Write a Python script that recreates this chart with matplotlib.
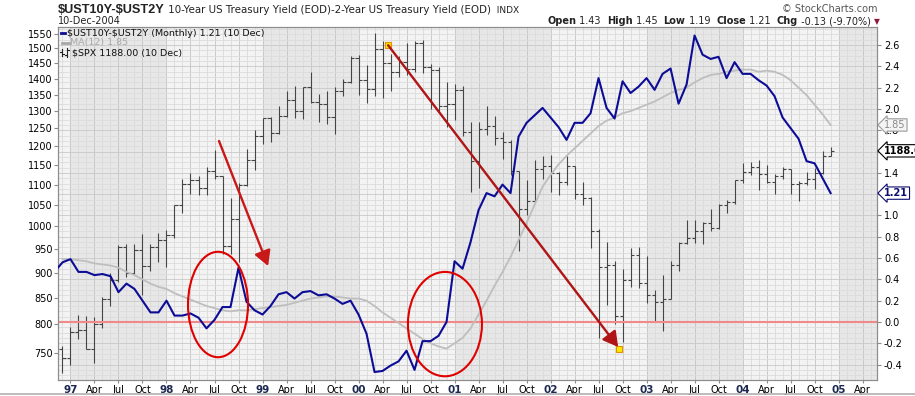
import matplotlib
matplotlib.use("Agg")
import matplotlib.pyplot as plt
import numpy as np
from matplotlib.patches import Ellipse
from matplotlib.lines import Line2D
from matplotlib.ticker import FixedLocator, FixedFormatter, NullLocator
from matplotlib.transforms import blended_transform_factory
from matplotlib.offsetbox import TextArea, HPacker, AnnotationBbox

W, H = 915, 396

# month index: 0 = Jan 1997
spread_start = -2  # Nov 1996
spread = [0.47, 0.56,
          0.59, 0.47, 0.47, 0.44, 0.45, 0.43, 0.28, 0.36, 0.31, 0.20, 0.09, 0.09,
          0.20, 0.06, 0.06, 0.08, 0.04, -0.06, 0.02, 0.14, 0.14, 0.51, 0.19, 0.11,
          0.07, 0.15, 0.26, 0.28, 0.22, 0.28, 0.29, 0.25, 0.26, 0.22, 0.17, 0.20,
          0.07, -0.11, -0.47, -0.46, -0.41, -0.37, -0.27, -0.45, -0.18, -0.18, -0.13, 0.00,
          0.57, 0.50, 0.75, 1.05, 1.21, 1.18, 1.29, 1.21, 1.74, 1.87, 1.94, 2.01,
          1.92, 1.83, 1.71, 1.87, 1.87, 1.96, 2.29, 2.01, 1.91, 2.26, 2.15, 2.21,
          2.29, 2.18, 2.33, 2.38, 2.05, 2.23, 2.69, 2.51, 2.47, 2.49, 2.29, 2.44,
          2.33, 2.33, 2.27, 2.22, 2.12, 1.92, 1.82, 1.72, 1.51, 1.49, 1.35, 1.21]

ma_start = -1  # Dec 1996
ma12 = [0.59,
        0.59, 0.58, 0.57, 0.55, 0.54, 0.53, 0.51, 0.47, 0.44, 0.40, 0.36, 0.33,
        0.31, 0.27, 0.24, 0.21, 0.18, 0.15, 0.13, 0.11, 0.10, 0.11, 0.11, 0.12,
        0.13, 0.14, 0.15, 0.16, 0.18, 0.20, 0.22, 0.23, 0.24, 0.24, 0.23, 0.22,
        0.22, 0.20, 0.15, 0.09, 0.04, -0.01, -0.06, -0.11, -0.16, -0.20, -0.23, -0.25,
        -0.20, -0.15, -0.06, 0.07, 0.20, 0.34, 0.47, 0.61, 0.77, 0.93, 1.10, 1.27,
        1.38, 1.48, 1.56, 1.63, 1.70, 1.77, 1.84, 1.89, 1.92, 1.96, 1.98, 2.01,
        2.04, 2.07, 2.11, 2.15, 2.18, 2.20, 2.25, 2.29, 2.32, 2.33, 2.35, 2.36,
        2.37, 2.37, 2.35, 2.36, 2.35, 2.32, 2.27, 2.20, 2.13, 2.04, 1.95, 1.85]

spx_start = -1  # Dec 1996
spx_open = [757.0,
            740.7, 786.2, 790.8, 757.1, 801.3, 848.3, 885.1, 954.3, 899.5, 947.3, 914.6, 955.4,
            970.4, 980.3, 1049.3, 1101.8, 1111.8, 1090.8, 1133.8, 1120.7, 957.3, 1017.0, 1098.7, 1163.6,
            1229.2, 1279.6, 1238.3, 1286.4, 1335.2, 1301.8, 1372.7, 1328.7, 1320.4, 1282.7, 1362.9, 1388.9,
            1469.3, 1394.5, 1366.4, 1498.6, 1452.4, 1420.6, 1454.6, 1430.8, 1517.7, 1436.5, 1429.4, 1315.0,
            1320.3, 1366.0, 1239.9, 1160.3, 1249.5, 1255.8, 1224.4, 1211.2, 1133.6, 1040.9, 1059.8, 1139.5,
            1148.1, 1130.2, 1106.7, 1147.4, 1076.9, 1067.1, 989.8, 911.6, 916.1, 815.3, 885.8, 936.3,
            879.8, 855.7, 841.2, 848.2, 916.9, 963.6, 974.5, 990.3, 1008.0, 996.0, 1050.7, 1058.2,
            1111.9, 1131.1, 1144.9, 1126.2, 1107.3, 1120.7, 1140.8, 1101.7, 1104.2, 1114.6, 1130.2, 1173.8]
spx_high = [761.8,
            794.7, 817.7, 814.9, 812.9, 851.9, 898.7, 957.7, 961.6, 960.5, 983.1, 961.0, 986.3,
            992.7, 1051.0, 1113.0, 1130.0, 1122.0, 1145.0, 1190.6, 1121.0, 1066.1, 1103.8, 1192.0, 1244.9,
            1280.0, 1283.0, 1316.0, 1362.0, 1376.0, 1373.0, 1420.3, 1352.0, 1361.0, 1373.0, 1399.0, 1473.0,
            1478.0, 1444.6, 1552.9, 1527.2, 1481.5, 1474.6, 1517.3, 1525.2, 1530.1, 1448.0, 1438.5, 1389.1,
            1383.4, 1376.4, 1267.4, 1269.3, 1315.9, 1286.6, 1239.8, 1218.0, 1134.0, 1110.6, 1163.4, 1173.0,
            1176.6, 1131.0, 1173.0, 1147.8, 1106.6, 1070.0, 994.5, 965.0, 924.0, 907.4, 951.6, 954.3,
            935.1, 864.6, 895.0, 924.2, 965.4, 1015.0, 1015.4, 1011.0, 1040.0, 1053.0, 1063.0, 1112.0,
            1155.0, 1159.0, 1163.0, 1150.6, 1127.0, 1146.0, 1140.0, 1109.0, 1132.0, 1142.0, 1188.5, 1197.5]
spx_low = [716.7,
           729.6, 773.4, 756.1, 733.5, 793.2, 833.8, 882.0, 892.0, 896.0, 855.3, 903.0, 923.0,
           912.8, 975.0, 1032.0, 1076.0, 1074.0, 1074.0, 1114.0, 940.0, 939.0, 923.3, 1096.0, 1136.9,
           1205.5, 1211.0, 1234.0, 1282.0, 1281.0, 1277.0, 1325.0, 1268.0, 1263.0, 1233.7, 1347.0, 1387.0,
           1350.0, 1325.1, 1346.6, 1339.4, 1361.1, 1407.0, 1413.0, 1421.0, 1419.4, 1305.8, 1294.9, 1254.1,
           1274.6, 1228.3, 1081.2, 1092.0, 1232.0, 1203.0, 1165.5, 1124.0, 944.8, 1026.8, 1054.3, 1114.0,
           1081.7, 1074.4, 1100.0, 1063.5, 1049.0, 952.9, 775.7, 837.0, 800.2, 768.6, 872.0, 869.5,
           840.3, 806.3, 788.9, 847.9, 902.8, 960.0, 962.1, 960.8, 990.0, 995.0, 1031.0, 1053.0,
           1105.0, 1124.0, 1087.2, 1105.0, 1076.0, 1113.0, 1078.0, 1060.7, 1099.0, 1090.2, 1127.0, 1173.0]
spx_close = [740.7,
             786.2, 790.8, 757.1, 801.3, 848.3, 885.1, 954.3, 899.5, 947.3, 914.6, 955.4, 970.4,
             980.3, 1049.3, 1101.8, 1111.8, 1090.8, 1133.8, 1120.7, 957.3, 1017.0, 1098.7, 1163.6, 1229.2,
             1279.6, 1238.3, 1286.4, 1335.2, 1301.8, 1372.7, 1328.7, 1320.4, 1282.7, 1362.9, 1388.9, 1469.3,
             1394.5, 1366.4, 1498.6, 1452.4, 1420.6, 1454.6, 1430.8, 1517.7, 1436.5, 1429.4, 1315.0, 1320.3,
             1366.0, 1239.9, 1160.3, 1249.5, 1255.8, 1224.4, 1211.2, 1133.6, 1040.9, 1059.8, 1139.5, 1148.1,
             1130.2, 1106.7, 1147.4, 1076.9, 1067.1, 989.8, 911.6, 916.1, 815.3, 885.8, 936.3, 879.8,
             855.7, 841.2, 848.2, 916.9, 963.6, 974.5, 990.3, 1008.0, 996.0, 1050.7, 1058.2, 1111.9,
             1131.1, 1144.9, 1126.2, 1107.3, 1120.7, 1140.8, 1101.7, 1104.2, 1114.6, 1130.2, 1173.8, 1188.0]

years = ["97", "98", "99", "00", "01", "02", "03", "04", "05"]
quarter_names = ["Apr", "Jul", "Oct"]
spx_ticks = list(range(750, 1551, 50))
yld_ticks = [-0.4, -0.2, 0.0, 0.2, 0.4, 0.6, 0.8, 1.0, 1.2, 1.4, 1.6, 1.8, 2.0, 2.2, 2.4, 2.6]
yld_labels = ["-0.4", "-0.2", "0.0", "0.2", "0.4", "0.6", "0.8", "1.0", "1.2", "1.4",
              "1.6", "1.8", "2.0", "2.2", "2.4", "2.6"]

# x tick labels: year label at Jan, month names at other quarters
tick_pos, tick_lab = [], []
for i, y in enumerate(years):
    tick_pos.append(i * 12)
    tick_lab.append(y)
    if i < len(years) - 1:
        for q, name in enumerate(quarter_names):
            tick_pos.append(i * 12 + 3 * (q + 1))
            tick_lab.append(name)
tick_pos.append(99)
tick_lab.append("Apr")

fig = plt.figure(figsize=(W / 100, H / 100), dpi=100)
ax = fig.add_axes([58 / W, 16 / H, 819 / W, 353 / H])
ax2 = ax.twinx()

XMIN, XMAX = -1.56, 100.8
ax.set_xlim(XMIN, XMAX)
ax.set_yscale("log")
ax.set_ylim(705, 1575)
ax2.set_ylim(-0.545, 2.77)

# background bands per year
ax.set_facecolor("#f2f2f2")
for i in range(-1, 9):
    col = "#e7e7e7" if i % 2 == 0 else "#f3f3f3"
    ax.axvspan(i * 12, (i + 1) * 12, color=col, lw=0, zorder=0)

# grid
for m in range(-1, 101):
    c = "#c4c4c4" if m % 3 == 0 else "#dadada"
    ax.axvline(m, color=c, lw=0.6, zorder=0.5)
hgrid = blended_transform_factory(ax.transAxes, ax2.transData)
for k in range(-10, 56):
    v = k * 0.05
    c = "#c8c8c8" if k % 4 == 0 else "#dcdcdc"
    ax.plot([0, 1], [v, v], transform=hgrid, color=c, lw=0.6, zorder=0.5)

# SPX OHLC bars
xs_spx = np.arange(spx_start, spx_start + len(spx_close))
bar_col = "#454545"
ax.vlines(xs_spx, spx_low, spx_high, colors=bar_col, lw=0.8, zorder=2)
ax.hlines(spx_open, xs_spx - 0.38, xs_spx, colors=bar_col, lw=0.8, zorder=2)
ax.hlines(spx_close, xs_spx, xs_spx + 0.38, colors=bar_col, lw=0.8, zorder=2)

# spread, MA and zero line
xs_sp = np.arange(spread_start, spread_start + len(spread))
xs_ma = np.arange(ma_start, ma_start + len(ma12))
ax2.axhline(0, color="#f08a8a", lw=1.5, zorder=1)
ax2.plot(xs_ma, ma12, color="#bebebe", lw=1.3, zorder=3)
ax2.plot(xs_sp, spread, color="#0c0c96", lw=1.5, zorder=4)

# hand drawn annotations
ax2.annotate("", xy=(24.7, 914), xycoords=ax.transData, xytext=(18.56, 1215), textcoords=ax.transData,
             arrowprops=dict(arrowstyle="-|>,head_length=0.75,head_width=0.42", color="#c81818", lw=1.7,
                             mutation_scale=12, shrinkA=0, shrinkB=0), zorder=6)
ax2.annotate("", xy=(68.45, 760), xycoords=ax.transData, xytext=(39.7, 1511), textcoords=ax.transData,
             arrowprops=dict(arrowstyle="-|>,head_length=0.75,head_width=0.42", color="#b01414", lw=1.7,
                             mutation_scale=12, shrinkA=0, shrinkB=0), zorder=6)
ax.plot([39.7, 68.6], [1511, 756], ls="none", marker="s", ms=4.5, mfc="#ffe800", mec="#e09000",
        mew=0.8, zorder=7, clip_on=False)
ax2.add_patch(Ellipse((18.44, 0.164), 7.5, 0.99, fill=False, ec="#e00000", lw=1.5, zorder=6))
ax2.add_patch(Ellipse((46.8, -0.02), 9.25, 0.98, fill=False, ec="#e00000", lw=1.5, zorder=6))

# axes styling
for a in (ax, ax2):
    for s in a.spines.values():
        s.set_color("#8c8c8c")
        s.set_linewidth(0.8)
ax.yaxis.set_major_locator(FixedLocator(spx_ticks))
ax.yaxis.set_major_formatter(FixedFormatter([str(v) for v in spx_ticks]))
ax.yaxis.set_minor_locator(NullLocator())
ax.tick_params(axis="y", labelsize=7, length=3, pad=1, color="#8c8c8c")
ax2.yaxis.set_major_locator(FixedLocator(yld_ticks))
ax2.yaxis.set_major_formatter(FixedFormatter(yld_labels))
ax2.tick_params(axis="y", labelsize=7, length=3, pad=2, color="#8c8c8c")
ax.set_xticks(tick_pos)
ax.set_xticklabels(tick_lab)
ax.tick_params(axis="x", labelsize=7, length=2, pad=1.5, color="#8c8c8c")
for t in ax.get_xticklabels():
    if t.get_text() in years:
        t.set_fontweight("bold")
        t.set_color("#1c2850")
        t.set_fontsize(7.5)

# right side value tags
tag_tr = blended_transform_factory(ax2.transAxes, ax2.transData)
ax2.text(1.009, 1.85, "1.85", transform=tag_tr, fontsize=7, color="#8a8a8a", va="center", ha="left",
         bbox=dict(boxstyle="larrow,pad=0.12", fc="#f4f4f4", ec="#9a9a9a", lw=0.8), zorder=10, clip_on=False)
ax2.text(1.009, 1188.0, "1188.00", transform=blended_transform_factory(ax2.transAxes, ax.transData),
         fontsize=7, fontweight="bold", color="black", va="center", ha="left",
         bbox=dict(boxstyle="larrow,pad=0.12", fc="white", ec="black", lw=0.8), zorder=10, clip_on=False)
ax2.text(1.009, 1.21, "1.21", transform=tag_tr, fontsize=7, fontweight="bold", color="#0c0c70",
         va="center", ha="left",
         bbox=dict(boxstyle="larrow,pad=0.12", fc="white", ec="#0c0c70", lw=0.8), zorder=10, clip_on=False)

# header
def fx(px):
    return px / W

def fy(py):
    return 1 - py / H

title_box = HPacker(children=[
    TextArea(r"\$UST10Y-\$UST2Y", textprops=dict(fontsize=9.2, fontweight="bold", color="#222222",
                                                  family="Liberation Sans")),
    TextArea(" 10-Year US Treasury Yield (EOD)-2-Year US Treasury Yield (EOD)",
             textprops=dict(fontsize=7.4, color="#222222")),
    TextArea("  INDX", textprops=dict(fontsize=6.5, color="#222222")),
], align="baseline", pad=0, sep=0)
fig.add_artist(AnnotationBbox(title_box, (fx(58), fy(10)), xycoords="figure fraction",
                              box_alignment=(0, 0.5), frameon=False, annotation_clip=False))
fig.text(fx(58), fy(21), "10-Dec-2004", fontsize=7, va="center", ha="left", color="#222222")
fig.text(fx(877), fy(9), "\u00a9 StockCharts.com", fontsize=7, va="center", ha="right", color="#555555")

pieces = [("Open", True), (" 1.43  ", False), ("High", True), (" 1.45  ", False), ("Low", True),
          (" 1.19  ", False), ("Close", True), (" 1.21  ", False), ("Chg", True), (" -0.13 (-9.70%) ", False)]
kids = [TextArea(t, textprops=dict(fontsize=7.0, fontweight="bold" if b else "normal", color="#222222"))
        for t, b in pieces]
kids.append(TextArea("\u25bc", textprops=dict(fontsize=5.5, color="#8b1a3a")))
fig.add_artist(AnnotationBbox(HPacker(children=kids, align="baseline", pad=0, sep=0), (fx(880), fy(21)),
                              xycoords="figure fraction", box_alignment=(1, 0.5), frameon=False,
                              annotation_clip=False))

# legend block inside the plot
fig.add_artist(Line2D([fx(61), fx(65)], [fy(33), fy(33)], color="#0c0c96", lw=2))
fig.text(fx(67), fy(33), r"\$UST10Y-\$UST2Y (Monthly) 1.21 (10 Dec)", fontsize=6.8, va="center", color="#111111")
fig.add_artist(Line2D([fx(62), fx(69)], [fy(43), fy(43)], color="#a8a8a8", lw=2))
fig.text(fx(70), fy(43), "MA(12) 1.85", fontsize=6.8, va="center", color="#a8a8a8")
for bx, (lo, hi, o, c) in zip([62, 67], [(49, 56, 52, 54), (48, 57, 55, 50)]):
    fig.add_artist(Line2D([fx(bx), fx(bx)], [fy(lo), fy(hi)], color="#222222", lw=0.8))
    fig.add_artist(Line2D([fx(bx - 2), fx(bx)], [fy(o), fy(o)], color="#222222", lw=0.8))
    fig.add_artist(Line2D([fx(bx), fx(bx + 2)], [fy(c), fy(c)], color="#222222", lw=0.8))
fig.text(fx(72), fy(53), r"\$SPX 1188.00 (10 Dec)", fontsize=6.8, va="center", color="#111111")

fig.add_artist(Line2D([0, 1], [fy(393.5), fy(393.5)], color="#b0b0b0", lw=1.2))

fig.savefig("out.png", dpi=100)
